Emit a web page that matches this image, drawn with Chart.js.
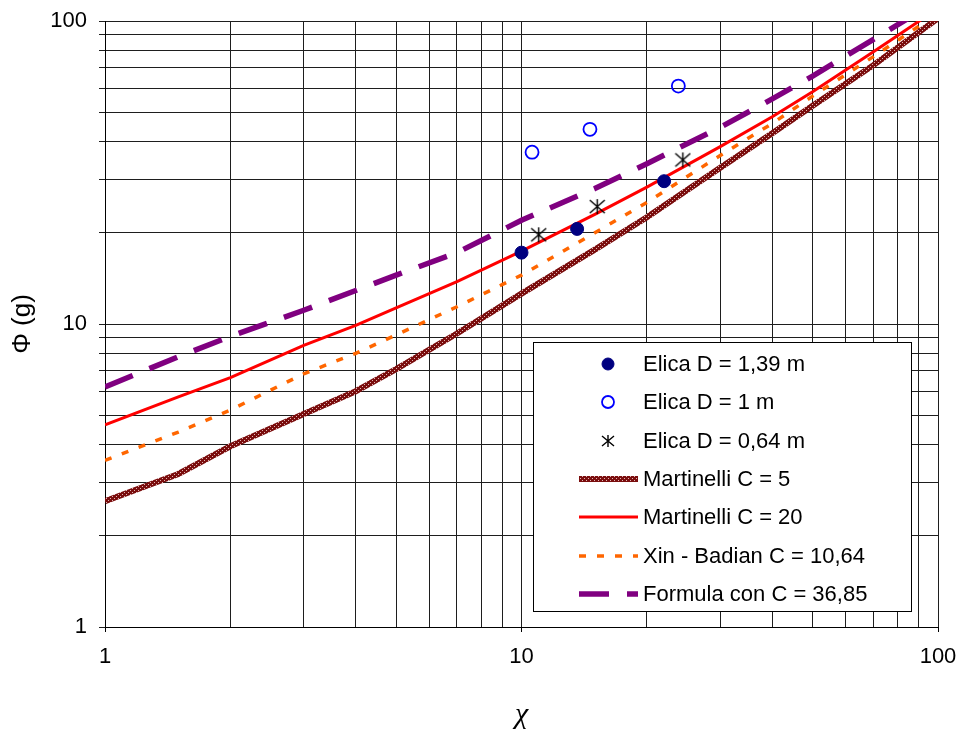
<!DOCTYPE html>
<html>
<head>
<meta charset="utf-8">
<script src="https://cdn.jsdelivr.net/npm/chart.js@4.4.1/dist/chart.umd.min.js"></script>
<style>
  html, body { margin: 0; padding: 0; background: #fff; }
  #wrap { position: relative; width: 963px; height: 730px; }
  #legend {
    position: absolute; left: 533px; top: 342px; width: 379px; height: 270px;
    box-sizing: border-box; border: 1px solid #000; background: #fff;
    font-family: "Liberation Sans", Arial, sans-serif; font-size: 22px; color: #000;
  }
  .row { position: absolute; left: 0; width: 100%; height: 38px; line-height: 38px; }
  .row canvas { position: absolute; left: 40px; top: 0; }
  .row span { position: absolute; left: 109px; white-space: nowrap; }
</style>
</head>
<body>
<div id="wrap">
  <canvas id="chart" width="963" height="730"></canvas>
  <div id="legend"></div>
</div>
<script>
const CHI = [1, 1.5, 2, 3, 4, 5, 7, 10, 15, 20, 30, 40, 50, 70, 100];
const MARTINELLI_C5 = [2.6, 3.2, 3.95, 5.05, 6.0, 7.1, 9.3, 12.6, 17.6, 22.5, 32.8, 42.6, 52.5, 71.5, 102];
const MARTINELLI_C20 = [4.65, 5.75, 6.65, 8.5, 9.9, 11.3, 13.8, 17.4, 23.0, 28.3, 38.5, 48.3, 58.4, 79.2, 110];
const XIN_BADIAN = [3.55, 4.4, 5.2, 6.85, 8.0, 9.2, 11.4, 14.5, 20.0, 25.2, 36.0, 45.9, 56.5, 76.3, 106];
const FORMULA_C36 = [6.2, 7.8, 9.1, 11.1, 12.9, 14.5, 17.2, 22.0, 28.0, 33.8, 44.6, 55.3, 65.8, 87, 117];

// measured points
const ELICA_139_X = [10.0, 13.6, 22.0];
const ELICA_139_Y = [17.2, 20.6, 29.6];
const ELICA_100_X = [10.6, 14.6, 23.8];
const ELICA_100_Y = [36.9, 43.9, 61.0];
const ELICA_064_X = [11.0, 15.2, 24.4];
const ELICA_064_Y = [19.7, 24.4, 34.8];

const GRID_VALUES = [1, 2, 3, 4, 5, 6, 7, 8, 9, 10, 20, 30, 40, 50, 60, 70, 80, 90, 100];
const TICK_LABELS = [1, 10, 100];

const FONT_FAMILY = '"Liberation Sans", Arial, sans-serif';
Chart.defaults.font.family = FONT_FAMILY;
Chart.defaults.color = "#000";

function toPoints(xs, ys) {
  return xs.map((x, i) => ({ x, y: ys[i] }));
}

function makeHatch() {
  const c = document.createElement("canvas");
  c.width = 4;
  c.height = 4;
  const g = c.getContext("2d");
  g.fillStyle = "#7a0d0d";
  g.fillRect(0, 0, 4, 4);
  g.fillStyle = "#e2b4b4";
  g.fillRect(0, 0, 1, 1);
  g.fillRect(2, 2, 1, 1);
  return g.createPattern(c, "repeat");
}

// six-spoke asterisk: an X from corner to corner plus a vertical bar
function makeAsterisk(size) {
  const c = document.createElement("canvas");
  c.width = size;
  c.height = size;
  const g = c.getContext("2d");
  const m = 1;
  g.strokeStyle = "#000";
  g.lineWidth = 1.4;
  g.beginPath();
  g.moveTo(size / 2, m);
  g.lineTo(size / 2, size - m);
  g.moveTo(m, m + 1);
  g.lineTo(size - m, size - m - 1);
  g.moveTo(size - m, m + 1);
  g.lineTo(m, size - m - 1);
  g.stroke();
  return c;
}

const hatch = makeHatch();
const asterisk = makeAsterisk(17);

const datasets = [
  {
    label: "Elica D = 1,39 m",
    data: toPoints(ELICA_139_X, ELICA_139_Y),
    showLine: false,
    pointStyle: "circle",
    pointRadius: 6.5,
    pointBackgroundColor: "#000080",
    pointBorderColor: "#000080",
    pointBorderWidth: 1,
  },
  {
    label: "Elica D = 1 m",
    data: toPoints(ELICA_100_X, ELICA_100_Y),
    showLine: false,
    pointStyle: "circle",
    pointRadius: 6.5,
    pointBackgroundColor: "rgba(0,0,0,0)",
    pointBorderColor: "#0000ff",
    pointBorderWidth: 1.8,
  },
  {
    label: "Elica D = 0,64 m",
    data: toPoints(ELICA_064_X, ELICA_064_Y),
    showLine: false,
    pointStyle: asterisk,
    pointRadius: 8,
  },
  {
    label: "Martinelli C = 5",
    data: toPoints(CHI, MARTINELLI_C5),
    borderColor: hatch,
    borderWidth: 6,
  },
  {
    label: "Martinelli C = 20",
    data: toPoints(CHI, MARTINELLI_C20),
    borderColor: "#ff0000",
    borderWidth: 3,
  },
  {
    label: "Xin - Badian C = 10,64",
    data: toPoints(CHI, XIN_BADIAN),
    borderColor: "#ff6600",
    borderWidth: 3.5,
    borderDash: [7, 11],
  },
  {
    label: "Formula con C = 36,85",
    data: toPoints(CHI, FORMULA_C36),
    borderColor: "#800080",
    borderWidth: 5.5,
    borderDash: [30, 18],
  },
];

datasets.forEach((ds) => {
  if (ds.showLine !== false) {
    ds.showLine = true;
    ds.pointRadius = 0;
    ds.tension = 0;
  }
});

function logAxis(extra) {
  return Object.assign(
    {
      type: "logarithmic",
      min: 1,
      max: 100,
      afterBuildTicks: (scale) => {
        scale.ticks = GRID_VALUES.map((value) => ({ value }));
      },
      border: { color: "#000", width: 1 },
    },
    extra
  );
}

const labelFor = (value) => (TICK_LABELS.includes(value) ? String(value) : "");

new Chart(document.getElementById("chart"), {
  type: "scatter",
  data: { datasets },
  options: {
    responsive: false,
    animation: false,
    layout: { padding: { left: 0, right: 25, top: 21, bottom: 0 } },
    plugins: { legend: { display: false }, tooltip: { enabled: false } },
    scales: {
      x: logAxis({
        ticks: {
          autoSkip: false,
          maxRotation: 0,
          padding: 12,
          font: { size: 22 },
          callback: labelFor,
        },
        grid: {
          color: "#1e1e1e",
          lineWidth: 1,
          tickLength: 5,
          tickColor: (ctx) =>
            ctx.tick && TICK_LABELS.includes(ctx.tick.value) ? "#000" : "rgba(0,0,0,0)",
        },
        title: {
          display: true,
          text: "χ",
          font: { family: '"Liberation Serif", serif', size: 30, style: "italic", lineHeight: 1 },
          padding: { top: 0, bottom: 0 },
        },
        afterFit: (scale) => {
          // fixed plot box: keep label overflow from shrinking it
          scale.height = 103;
          scale.paddingLeft = 0;
          scale.paddingRight = 0;
        },
      }),
      y: logAxis({
        ticks: {
          autoSkip: false,
          padding: 12,
          font: { size: 22 },
          callback: labelFor,
        },
        grid: { color: "#1e1e1e", lineWidth: 1, tickLength: 6, tickColor: "#1e1e1e" },
        title: {
          display: true,
          text: "Φ (g)",
          font: { size: 26, lineHeight: 1.2 },
          padding: { top: 7, bottom: 0 },
        },
        afterFit: (scale) => {
          scale.width = 105;
          scale.paddingTop = 0;
          scale.paddingBottom = 0;
        },
      }),
    },
  },
});

// legend sits inside the plot, bottom right, like the original
function drawLegendIcon(canvas, ds) {
  const g = canvas.getContext("2d");
  const cy = canvas.height / 2;
  const cx = 34;
  if (ds.showLine) {
    g.strokeStyle = ds.borderColor;
    g.lineWidth = ds.borderWidth;
    g.setLineDash(ds.borderDash || []);
    g.beginPath();
    g.moveTo(5, cy);
    g.lineTo(64, cy);
    g.stroke();
    return;
  }
  if (ds.pointStyle === "circle") {
    g.beginPath();
    g.arc(cx, cy, 6, 0, Math.PI * 2);
    g.fillStyle = ds.pointBackgroundColor;
    g.fill();
    g.lineWidth = ds.pointBorderWidth;
    g.strokeStyle = ds.pointBorderColor;
    g.stroke();
  } else {
    const img = makeAsterisk(14);
    g.drawImage(img, cx - 7, cy - 7);
  }
}

const legend = document.getElementById("legend");
datasets.forEach((ds, i) => {
  const row = document.createElement("div");
  row.className = "row";
  row.style.top = 2 + i * 38.3 + "px";
  const icon = document.createElement("canvas");
  icon.width = 70;
  icon.height = 38;
  drawLegendIcon(icon, ds);
  const text = document.createElement("span");
  text.textContent = ds.label;
  row.appendChild(icon);
  row.appendChild(text);
  legend.appendChild(row);
});
</script>
</body>
</html>
